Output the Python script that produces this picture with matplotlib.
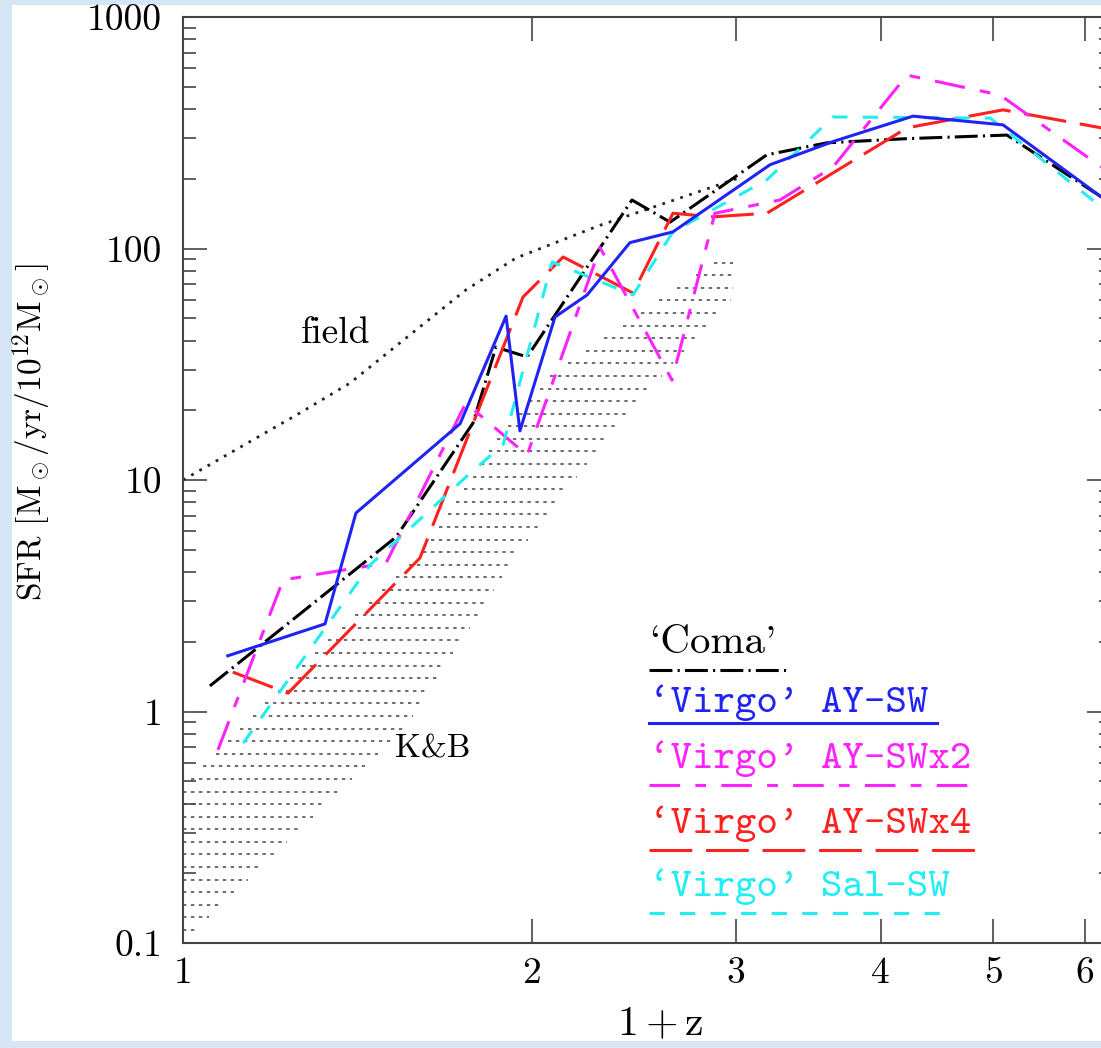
import numpy as np
import matplotlib
matplotlib.use("Agg")
import matplotlib.pyplot as plt
from matplotlib.patches import Rectangle
from matplotlib.lines import Line2D
from matplotlib.ticker import LogLocator, NullLocator, FixedLocator, FixedFormatter

plt.rcParams['font.family'] = 'cmr10'
plt.rcParams['mathtext.fontset'] = 'cm'
plt.rcParams['axes.unicode_minus'] = False

# ---- data, x = 1+z, y = SFR ----
field_x = [1.0, 1.262, 1.393, 1.754, 1.938, 2.29, 3.02]
field_y = [10.0, 19.5, 26.2, 66.2, 91.0, 126.0, 202.0]

coma_x = [1.055, 1.527, 1.779, 1.862, 1.981, 2.44, 2.632, 3.19, 3.594, 4.2, 5.14, 6.2]
coma_y = [1.29, 5.67, 17.6, 37.5, 34.0, 162.0, 130.0, 254.0, 286.0, 298.0, 309.0, 167.0]

aysw_x = [1.093, 1.326, 1.41, 1.734, 1.9, 1.953, 2.094, 2.232, 2.43, 2.647, 3.21, 3.64, 4.265, 5.1, 6.2]
aysw_y = [1.74, 2.39, 7.2, 17.5, 51.0, 16.3, 50.6, 63.0, 106.0, 118.0, 230.0, 290.0, 373.0, 342.0, 167.0]

aysw2_x = [1.072, 1.22, 1.497, 1.754, 1.981, 2.29, 2.642, 2.877, 3.274, 3.638, 4.214, 5.07, 6.2]
aysw2_y = [0.683, 3.7, 4.38, 21.5, 12.8, 101.0, 27.0, 142.0, 162.0, 225.0, 561.0, 460.0, 225.0]

aysw4_x = [1.104, 1.232, 1.601, 1.965, 2.128, 2.445, 2.647, 2.866, 3.19, 4.214, 5.1, 6.2]
aysw4_y = [1.48, 1.2, 4.6, 61.7, 91.9, 64.2, 142.0, 137.0, 142.0, 332.0, 397.0, 332.0]

salsw_x = [1.127, 1.45, 1.769, 1.889, 2.082, 2.445, 2.647, 3.19, 3.638, 4.97, 6.2]
salsw_y = [0.73, 4.29, 10.7, 14.2, 87.5, 63.0, 118.0, 198.0, 370.0, 366.0, 151.0]

# K&B band edges
kb_upper_x = [1.0, 1.302, 1.611, 1.870, 2.082, 2.894]
kb_upper_y = [0.472, 1.81, 4.89, 15.2, 28.7, 89.2]
kb_lower_x = [1.0, 1.554, 1.769, 1.946, 2.322, 2.777, 2.982, 2.982]
kb_lower_y = [0.1, 0.849, 2.32, 4.89, 15.2, 41.9, 61.1, 91.0]

legend_labels = ["`Coma'", "`Virgo' AY-SW", "`Virgo' AY-SWx2", "`Virgo' AY-SWx4", "`Virgo' Sal-SW"]
colors = ['black', '#1f24f2', '#ff22ff', '#ff2020', '#22eef2']

# ---- figure ----
fig = plt.figure(figsize=(11.01, 10.48), dpi=100, facecolor='#d7e6f5')
fig.add_artist(Rectangle((12 / 1101, 7 / 1048), 1.0, (1048 - 12) / 1048,
                         transform=fig.transFigure, fc='white', ec='none', zorder=-5))
ax = fig.add_axes([183 / 1101, 105 / 1048, 928 / 1101, 926 / 1048])
ax.set_xscale('log')
ax.set_yscale('log')
ax.set_xlim(1, 6.32)
ax.set_ylim(0.1, 1000)

# K&B hatched band
lv = -0.944 + 0.0544 * np.arange(54)
xl = 10 ** np.interp(lv, np.log10(kb_upper_y), np.log10(kb_upper_x), left=0.0)
xr = 10 ** np.interp(lv, np.log10(kb_lower_y), np.log10(kb_lower_x))
ax.hlines(10 ** lv, xl, xr, colors='#444444', linewidth=1.1,
          linestyles=[(0, (2.2, 3.0))], zorder=1)

# field
ax.plot(field_x, field_y, color='#222222', lw=2.0, ls=(0, (1, 2.4)), zorder=2)

styles = [(0, (7.5, 1.7, 0.7, 1.7)), '-', (0, (10, 5, 3.5, 5)), (0, (14, 4.5)), (0, (5, 5))]
series = [(coma_x, coma_y), (aysw_x, aysw_y), (aysw2_x, aysw2_y), (aysw4_x, aysw4_y), (salsw_x, salsw_y)]
zs = [3, 7, 5, 4, 6]
for (sx, sy), c, st, z in zip(series, colors, styles, zs):
    ax.plot(sx, sy, color=c, ls=st, lw=2.2, zorder=z)

ax.text(1.264, 39.1, 'field', fontsize=27, va='baseline', ha='left')
ax.text(1.524, 0.63, 'K&B', fontsize=24, va='baseline', ha='left')

# legend drawn by hand
text_y = [0.313, 0.2495, 0.189, 0.1188, 0.0508]
line_y = [0.295, 0.2376, 0.1706, 0.1004, 0.0324]
line_end = [0.651, 0.8125, 0.8545, 0.862, 0.8244]
for i, lab in enumerate(legend_labels):
    fam = 'cmr10' if i == 0 else 'cmtt10'
    ax.text(0.502, text_y[i], lab, color=colors[i], fontsize=29.5, family=fam,
            va='baseline', ha='left', transform=ax.transAxes)
    ax.add_line(Line2D([0.502, line_end[i]], [line_y[i], line_y[i]], color=colors[i],
                       ls=styles[i], lw=2.2, transform=ax.transAxes))

# axes styling
for s in ax.spines.values():
    s.set_color('#444444')
    s.set_linewidth(1.5)
ax.xaxis.set_major_locator(FixedLocator([1, 2, 3, 4, 5, 6]))
ax.xaxis.set_major_formatter(FixedFormatter(['1', '2', '3', '4', '5', '6']))
ax.xaxis.set_minor_locator(NullLocator())
ax.yaxis.set_major_locator(FixedLocator([0.1, 1, 10, 100, 1000]))
ax.yaxis.set_major_formatter(FixedFormatter(['0.1', '1', '10', '100', '1000']))
ax.yaxis.set_minor_locator(LogLocator(base=10, subs=np.arange(2, 10)))
ax.tick_params(which='both', direction='in', top=True, right=True, color='#444444', width=1.2)
ax.tick_params(axis='y', which='major', length=17, pad=15, labelsize=27)
ax.tick_params(axis='y', which='minor', length=9)
ax.tick_params(axis='x', which='major', length=17, pad=10, labelsize=27)

ax.set_xlabel(r'$1+\mathrm{z}$', fontsize=30)
ax.xaxis.set_label_coords(0.514, -0.068)
ax.set_ylabel(r'SFR $[\mathrm{M}_\odot/\mathrm{yr}/10^{12}\mathrm{M}_\odot]$', fontsize=24)
ax.yaxis.set_label_coords(-0.14, 0.552)

fig.savefig('out.png', dpi=100, facecolor=fig.get_facecolor())
